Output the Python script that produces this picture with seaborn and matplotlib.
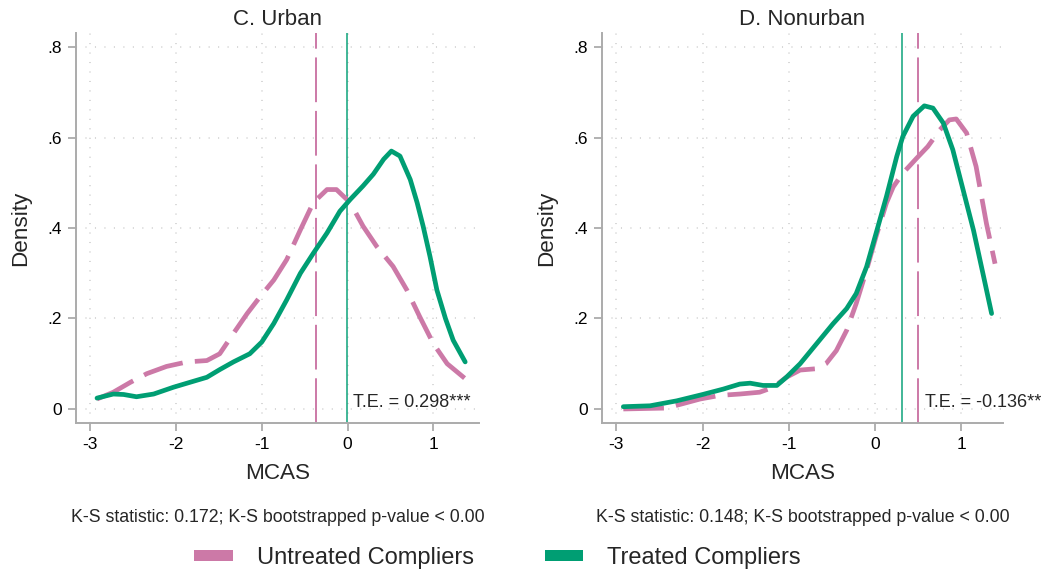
import matplotlib
matplotlib.use("Agg")
import matplotlib.pyplot as plt
from matplotlib.patches import Patch
import pandas as pd
import seaborn as sns

# Kernel density estimates of MCAS scores, by group
urban_treated_x = [-2.92, -2.73, -2.61, -2.46, -2.26, -2.03, -1.80, -1.64, -1.49, -1.33, -1.14, -1.00,
                   -0.86, -0.71, -0.55, -0.40, -0.24, -0.09, 0.03, 0.18, 0.30, 0.42, 0.51, 0.61,
                   0.73, 0.81, 0.88, 0.96, 1.04, 1.14, 1.23, 1.37]
urban_treated_y = [0.024, 0.033, 0.032, 0.027, 0.033, 0.048, 0.061, 0.070, 0.087, 0.104, 0.122, 0.148,
                   0.189, 0.241, 0.300, 0.344, 0.389, 0.437, 0.463, 0.493, 0.519, 0.552, 0.570, 0.559,
                   0.507, 0.456, 0.404, 0.337, 0.263, 0.200, 0.152, 0.104]
urban_untreated_x = [-2.92, -2.73, -2.53, -2.34, -2.11, -1.87, -1.64, -1.49, -1.33, -1.17, -1.02, -0.86,
                     -0.71, -0.55, -0.40, -0.24, -0.13, 0.03, 0.18, 0.34, 0.53, 0.69, 0.84, 1.00,
                     1.16, 1.37]
urban_untreated_y = [0.022, 0.037, 0.059, 0.078, 0.094, 0.104, 0.107, 0.122, 0.167, 0.211, 0.248, 0.285,
                     0.330, 0.396, 0.456, 0.485, 0.485, 0.456, 0.404, 0.359, 0.315, 0.263, 0.204, 0.144,
                     0.100, 0.067]

nonurban_treated_x = [-2.92, -2.61, -2.30, -2.00, -1.76, -1.57, -1.45, -1.30, -1.14, -1.03, -0.87, -0.68,
                      -0.49, -0.33, -0.22, -0.10, 0.01, 0.13, 0.25, 0.32, 0.44, 0.57, 0.67, 0.79,
                      0.90, 1.02, 1.14, 1.25, 1.35]
nonurban_treated_y = [0.005, 0.007, 0.018, 0.032, 0.044, 0.055, 0.057, 0.052, 0.052, 0.070, 0.100, 0.144,
                      0.188, 0.222, 0.255, 0.314, 0.388, 0.469, 0.558, 0.602, 0.647, 0.670, 0.665, 0.632,
                      0.573, 0.484, 0.395, 0.299, 0.211]
nonurban_untreated_x = [-2.92, -2.42, -2.03, -1.80, -1.57, -1.34, -1.18, -1.03, -0.87, -0.68, -0.57, -0.45,
                        -0.33, -0.22, -0.10, 0.01, 0.13, 0.21, 0.32, 0.48, 0.61, 0.75, 0.86, 0.94,
                        1.06, 1.17, 1.29, 1.39]
nonurban_untreated_y = [0.000, 0.002, 0.022, 0.030, 0.033, 0.037, 0.048, 0.070, 0.086, 0.089, 0.100, 0.129,
                        0.174, 0.233, 0.307, 0.381, 0.455, 0.491, 0.521, 0.554, 0.580, 0.617, 0.639, 0.641,
                        0.610, 0.536, 0.410, 0.321]

# Group means (vertical reference lines)
urban_means = {"Untreated Compliers": -0.367, "Treated Compliers": -0.005}
nonurban_means = {"Untreated Compliers": 0.497, "Treated Compliers": 0.316}

panel_titles = ["C. Urban", "D. Nonurban"]
te_labels = ["T.E. = 0.298***", "T.E. = -0.136**"]
te_xpos = [0.064, 0.58]
ks_labels = ["K-S statistic: 0.172; K-S bootstrapped p-value < 0.00",
             "K-S statistic: 0.148; K-S bootstrapped p-value < 0.00"]
x_ticks = [-3, -2, -1, 0, 1]
x_ticklabels = ["-3", "-2", "-1", "0", "1"]
y_ticks = [0, 0.2, 0.4, 0.6, 0.8]
y_ticklabels = ["0", ".2", ".4", ".6", ".8"]

PINK = "#CC79A7"
GREEN = "#009E73"
AXIS_GREY = "#ababab"

sns.set_theme(style="ticks")
plt.rcParams["font.family"] = ["Liberation Sans", "DejaVu Sans"]

fig = plt.figure(figsize=(10.45, 5.73), dpi=100)
ax_left = fig.add_axes([0.0727, 0.2618, 0.3856, 0.6806])
ax_right = fig.add_axes([0.5761, 0.2618, 0.3837, 0.6806])

panels = [
    (ax_left, urban_untreated_x, urban_untreated_y, urban_treated_x, urban_treated_y,
     urban_means, (-3.165, 1.53)),
    (ax_right, nonurban_untreated_x, nonurban_untreated_y, nonurban_treated_x, nonurban_treated_y,
     nonurban_means, (-3.167, 1.482)),
]

curve_lw = 3.4
curve_dash = (0, (8.6, 2.6))
for i, (ax, ux, uy, tx, ty, means, xlim) in enumerate(panels):
    ax.grid(True, color="#cdcdcd", linestyle=(0, (0.7, 5.5)), linewidth=1.1)
    ax.set_axisbelow(True)

    ax.axvline(means["Untreated Compliers"], color=PINK, lw=1.4,
               linestyle=(0, (23, 4.5)), zorder=1.5)
    ax.axvline(means["Treated Compliers"], color=GREEN, lw=1.3, alpha=0.8, zorder=1.5)

    untreated = pd.DataFrame({"MCAS": ux, "Density": uy})
    treated = pd.DataFrame({"MCAS": tx, "Density": ty})
    sns.lineplot(data=untreated, x="MCAS", y="Density", ax=ax, color=PINK, lw=curve_lw,
                 estimator=None, sort=False, zorder=3)
    ax.lines[-1].set_linestyle(curve_dash)
    sns.lineplot(data=treated, x="MCAS", y="Density", ax=ax, color=GREEN, lw=curve_lw,
                 estimator=None, sort=False, zorder=4)

    ax.set_xlim(*xlim)
    ax.set_ylim(-0.031, 0.831)
    ax.set_xticks(x_ticks)
    ax.set_xticklabels(x_ticklabels)
    ax.set_yticks(y_ticks)
    ax.set_yticklabels(y_ticklabels)

    for side in ["top", "right"]:
        ax.spines[side].set_visible(False)
    for side in ["left", "bottom"]:
        ax.spines[side].set_color(AXIS_GREY)
        ax.spines[side].set_linewidth(1.4)
    ax.tick_params(axis="both", color=AXIS_GREY, length=6, width=1.3, labelsize=12.5,
                   pad=4, labelcolor="black", direction="out")

    ax.set_title(panel_titles[i], fontsize=16, pad=6)
    ax.set_xlabel("MCAS", fontsize=16.2, labelpad=8)
    ax.set_ylabel("Density", fontsize=16.2, labelpad=12)

    ax.text(te_xpos[i], 0.014, te_labels[i], fontsize=13, ha="left", va="center", zorder=5)

    pos = ax.get_position()
    fig.text(pos.x0 + pos.width / 2, 1 - 517 / 573, ks_labels[i], fontsize=12.8,
             ha="center", va="center")

# Legend keys drawn as flat solid bars
handles = [
    Patch(facecolor=PINK, edgecolor="none"),
    Patch(facecolor=GREEN, edgecolor="none"),
]
fig.legend(handles, ["Untreated Compliers", "Treated Compliers"], loc="center",
           bbox_to_anchor=(0.476, 1 - 558 / 573), ncol=2, frameon=False, fontsize=17,
           handlelength=1.65, handleheight=0.36, handletextpad=1.0, columnspacing=3.0)

fig.savefig("out.png", dpi=100)
